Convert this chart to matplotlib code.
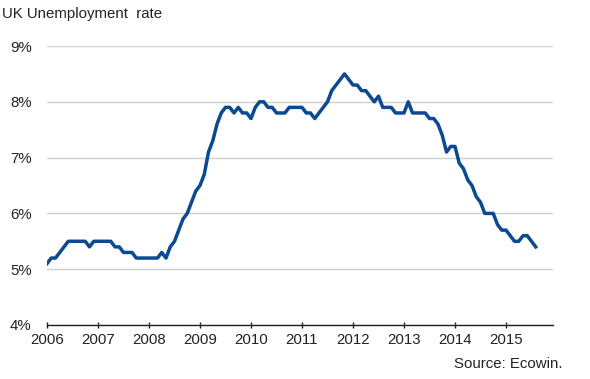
import numpy as np
import matplotlib
matplotlib.use("Agg")
import matplotlib.pyplot as plt

plt.rcParams['font.family'] = ['Liberation Sans', 'DejaVu Sans']

# monthly UK unemployment rate (%), Jan 2006 - Aug 2015
rate_2006 = [5.1, 5.2, 5.2, 5.3, 5.4, 5.5, 5.5, 5.5, 5.5, 5.5, 5.4, 5.5]
rate_2007 = [5.5, 5.5, 5.5, 5.5, 5.4, 5.4, 5.3, 5.3, 5.3, 5.2, 5.2, 5.2]
rate_2008 = [5.2, 5.2, 5.2, 5.3, 5.2, 5.4, 5.5, 5.7, 5.9, 6.0, 6.2, 6.4]
rate_2009 = [6.5, 6.7, 7.1, 7.3, 7.6, 7.8, 7.9, 7.9, 7.8, 7.9, 7.8, 7.8]
rate_2010 = [7.7, 7.9, 8.0, 8.0, 7.9, 7.9, 7.8, 7.8, 7.8, 7.9, 7.9, 7.9]
rate_2011 = [7.9, 7.8, 7.8, 7.7, 7.8, 7.9, 8.0, 8.2, 8.3, 8.4, 8.5, 8.4]
rate_2012 = [8.3, 8.3, 8.2, 8.2, 8.1, 8.0, 8.1, 7.9, 7.9, 7.9, 7.8, 7.8]
rate_2013 = [7.8, 8.0, 7.8, 7.8, 7.8, 7.8, 7.7, 7.7, 7.6, 7.4, 7.1, 7.2]
rate_2014 = [7.2, 6.9, 6.8, 6.6, 6.5, 6.3, 6.2, 6.0, 6.0, 6.0, 5.8, 5.7]
rate_2015 = [5.7, 5.6, 5.5, 5.5, 5.6, 5.6, 5.5, 5.4]

rates = (rate_2006 + rate_2007 + rate_2008 + rate_2009 + rate_2010 +
         rate_2011 + rate_2012 + rate_2013 + rate_2014 + rate_2015)
years = 2006 + np.arange(len(rates)) / 12.0

year_ticks = list(range(2006, 2016))
pct_ticks = [4, 5, 6, 7, 8, 9]

fig = plt.figure(figsize=(5.9, 3.79), dpi=100)
ax = fig.add_axes([47 / 590, 1 - 325 / 379, (553 - 47) / 590, (325 - 46) / 379])

ax.plot(years, rates, color='#0b4a91', linewidth=2.5, solid_joinstyle='round')

ax.set_xlim(2006, 2006 + (553 - 47) / 51.0)
ax.set_ylim(4, 9)
ax.set_xticks(year_ticks)
ax.set_xticklabels([str(y) for y in year_ticks])
ax.set_yticks(pct_ticks)
ax.set_yticklabels([f"{p}%" for p in pct_ticks])

ax.grid(axis='y', color='#d0d0d0', linewidth=1)
ax.set_axisbelow(True)
for side in ['top', 'right', 'left']:
    ax.spines[side].set_visible(False)
ax.spines['bottom'].set_color('#222222')
ax.spines['bottom'].set_linewidth(1)

ax.tick_params(axis='x', direction='inout', length=5, width=1, color='#222222',
               labelsize=10.8, pad=3)
ax.tick_params(axis='y', length=0, labelsize=10.8, pad=11)
for lbl in ax.get_xticklabels() + ax.get_yticklabels():
    lbl.set_color('#222222')

fig.text(2 / 590, 1 - 14 / 379, "UK Unemployment  rate", fontsize=10.8,
         color='#222222', va='center', ha='left')
fig.text(563 / 590, 1 - 364 / 379, "Source: Ecowin.", fontsize=10.8,
         color='#222222', va='center', ha='right')

fig.savefig("out.png", dpi=100)
